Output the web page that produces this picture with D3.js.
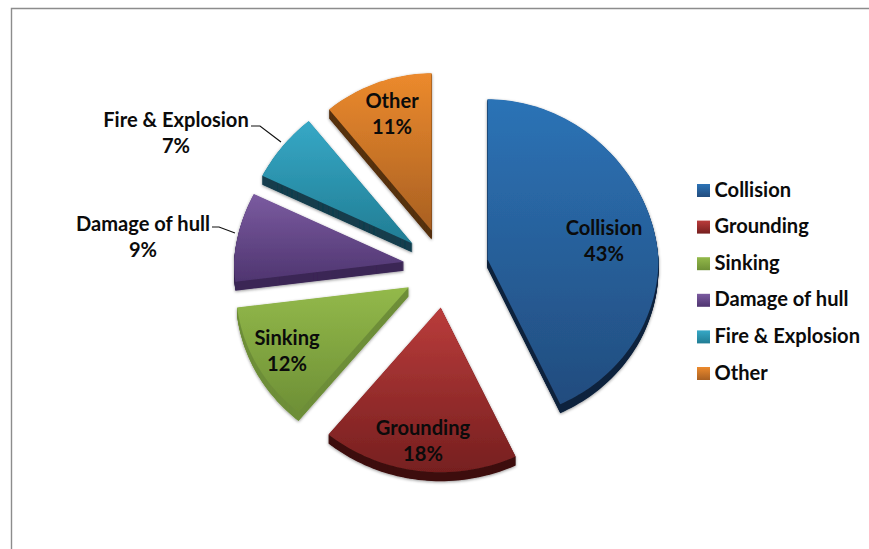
<!DOCTYPE html>
<html><head><meta charset="utf-8">
<script src="https://cdn.jsdelivr.net/npm/d3@7"></script>
<style>html,body{margin:0;padding:0;background:#fff}svg{display:block}text{font-family:Lato,"Open Sans",sans-serif;font-weight:700;fill:#0b0b0b}</style>
</head><body><svg id="c" width="869" height="549"></svg>
<script>
const categories = ["Collision","Grounding","Sinking","Damage of hull","Fire & Explosion","Other"];
const values = [43,18,12,9,7,11];
const topColors = ["#2c73b6","#ba3c3b","#93b94a","#7b5ba0","#36a8c6","#ec8a2d"];
const bottomColors = ["#224c7e","#761f1f","#6e9036","#4f3570","#217d94","#a96022"];
const sideColors = ["#10243f","#3e1110","#6f8f3a","#3c2756","#143f4e","#56300f"];
const labelAnchors = [[604,228],[423,428],[287,338],[143,224],[176,120],[392,101]];
const leaderLines = [null,null,null,[[212,227],[219,227],[235,233]],[[251,126],[260,126],[281,142]],null];
const outerRadii = [171,176,173,170,170,168];

const W = 869, H = 549, cx = 446, cy = 268, squash = 0.936, explode = 42.5, depth = 9, persp = 0.06;
const fs = 20.1;
const svg = d3.select("#c");
const defs = svg.append("defs");
const sh = defs.append("filter").attr("id","sh").attr("x","-20%").attr("y","-20%").attr("width","140%").attr("height","140%");
sh.append("feDropShadow").attr("dx",0).attr("dy",1).attr("stdDeviation",1.6).attr("flood-color","#000").attr("flood-opacity",0.4);
categories.forEach((c,i)=>{
  const g = defs.append("linearGradient").attr("id","g"+i).attr("x1",0).attr("y1",0).attr("x2",0).attr("y2",1);
  g.append("stop").attr("offset",0).attr("stop-color",topColors[i]);
  g.append("stop").attr("offset",1).attr("stop-color",bottomColors[i]);
});

svg.append("path").attr("d",`M11.5 ${H}V8.5H${W}`).attr("fill","none").attr("stroke","#8c8c8c").attr("stroke-width",1.4);

const pie = d3.pie().sort(null).value(d=>d)(values);
const wedge = (d,r)=>{
  const n = Math.ceil((d.endAngle-d.startAngle)*40);
  const pts = d3.range(n+1).map(j=>{
    const a = d.startAngle+(d.endAngle-d.startAngle)*j/n;
    const y = -Math.cos(a)*r*squash;
    return [Math.sin(a)*r*(1+persp*Math.min(y,0)/r), y];
  });
  return d3.line()([[0,0],...pts])+"Z";
};
const slices = svg.selectAll("g.s").data(pie).join("g").attr("class","s")
  .attr("filter","url(#sh)")
  .attr("transform",d=>{
    const m=(d.startAngle+d.endAngle)/2;
    return `translate(${cx+explode*Math.sin(m)},${cy-explode*Math.cos(m)*squash})`;
  });
slices.each(function(d,i){
  const g=d3.select(this), p=wedge(d,outerRadii[i]);
  d3.range(depth,0,-0.5).forEach(k=>{
    g.append("path").attr("d",p).attr("fill",sideColors[i]).attr("transform",`translate(0,${k})`);
  });
  g.append("path").attr("d",p).attr("fill",`url(#g${i})`);
});

leaderLines.forEach(l=>{
  if(l) svg.append("path").attr("d",d3.line()(l)).attr("fill","none").attr("stroke","#111").attr("stroke-width",1.2);
});

categories.forEach((c,i)=>{
  const [x,y]=labelAnchors[i];
  const t=svg.append("text").attr("text-anchor","middle").attr("font-size",fs);
  t.append("tspan").attr("x",x).attr("y",y+6.5).text(c);
  t.append("tspan").attr("x",x).attr("y",y+32.5).text(values[i]+"%");
});

const legendY = d3.scalePoint().domain(categories).range([190.5,373.5]);
categories.forEach((c,i)=>{
  const y=legendY(c);
  svg.append("rect").attr("x",697).attr("y",y-6.5).attr("width",13).attr("height",13).attr("fill",`url(#g${i})`);
  svg.append("text").attr("x",714.5).attr("y",y+6).attr("font-size",fs).text(c);
});
</script></body></html>
